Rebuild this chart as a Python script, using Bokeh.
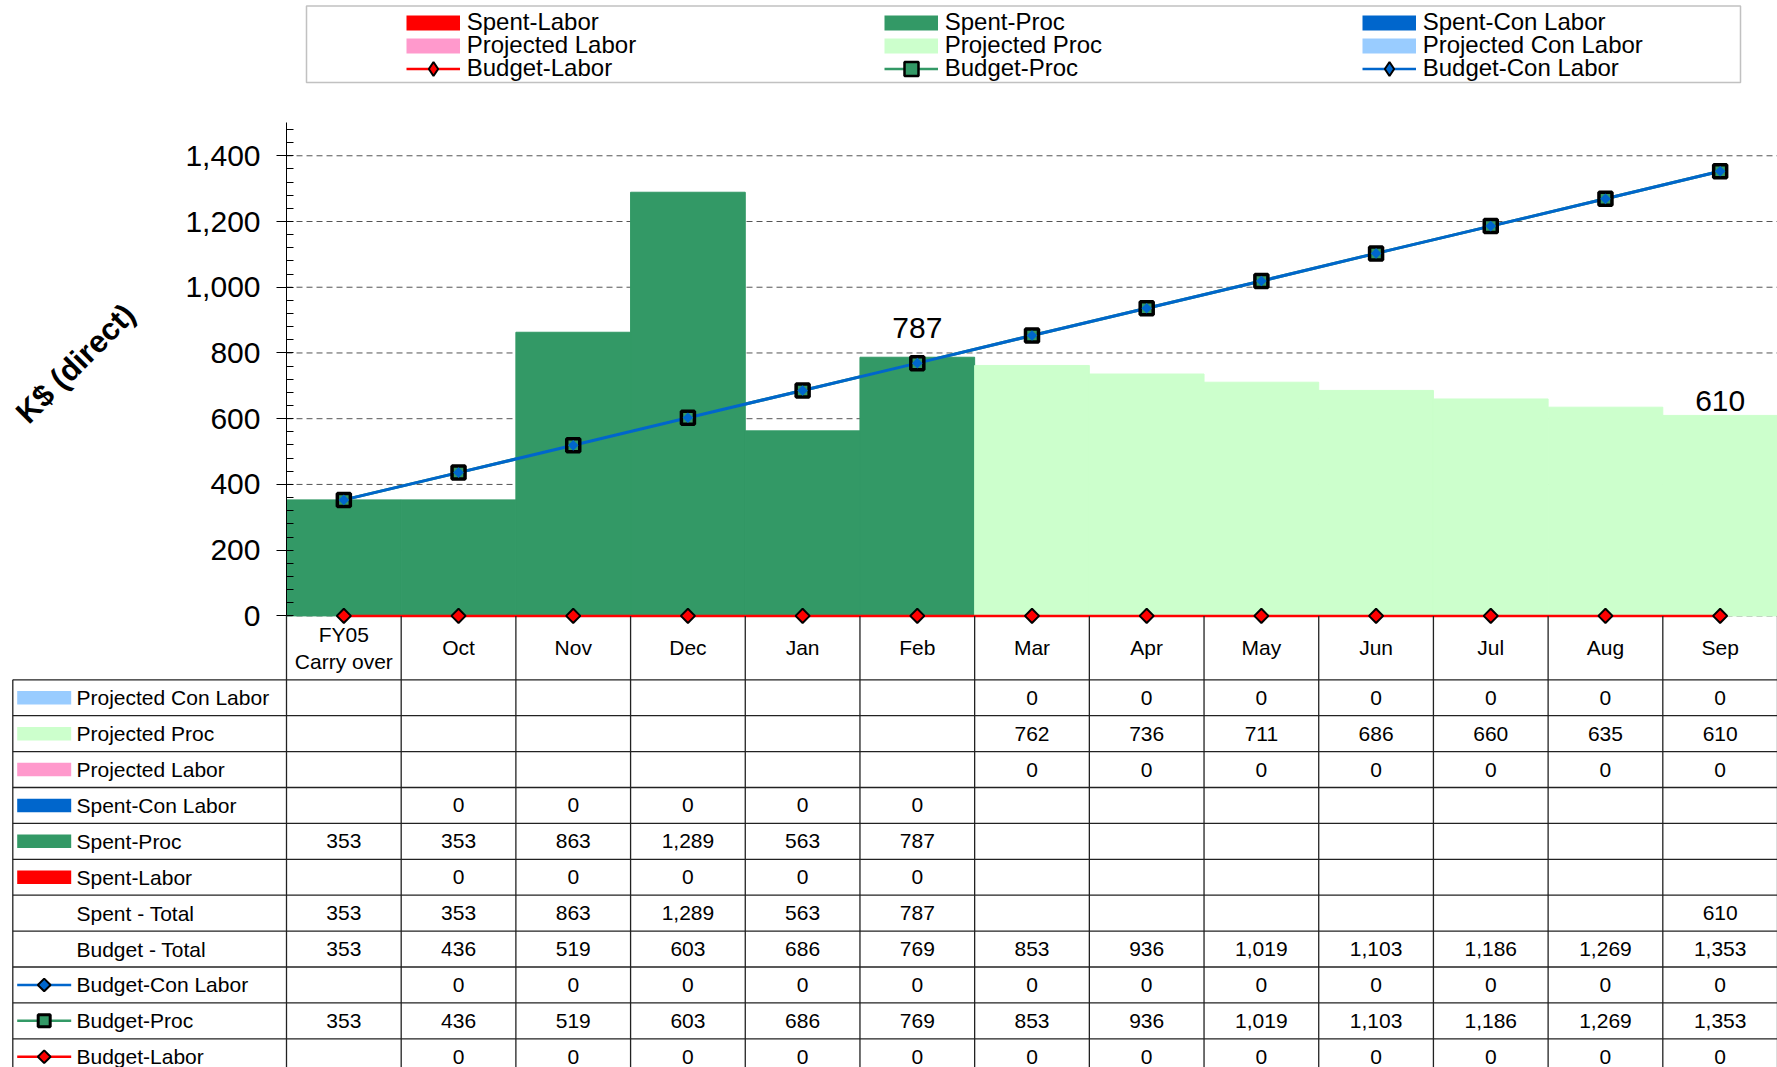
from bokeh.plotting import figure
from bokeh.models import (Range1d, SingleIntervalTicker, NumeralTickFormatter, Legend, LegendItem,
                          Label, BoxAnnotation, LinearAxis)
from bokeh.embed import file_html
from bokeh.resources import INLINE
from bokeh.core.properties import value

FONT = "Liberation Sans"
N = None
NAN = float("nan")

# ---------------- data ----------------
categories = ["FY05\nCarry over", "Oct", "Nov", "Dec", "Jan", "Feb", "Mar", "Apr", "May",
              "Jun", "Jul", "Aug", "Sep"]
spent_labor = [N, 0, 0, 0, 0, 0, N, N, N, N, N, N, N]
spent_proc = [353, 353, 863, 1289, 563, 787, N, N, N, N, N, N, N]
spent_con_labor = [N, 0, 0, 0, 0, 0, N, N, N, N, N, N, N]
projected_labor = [N, N, N, N, N, N, 0, 0, 0, 0, 0, 0, 0]
projected_proc = [N, N, N, N, N, N, 762, 736, 711, 686, 660, 635, 610]
projected_con_labor = [N, N, N, N, N, N, 0, 0, 0, 0, 0, 0, 0]
spent_total = [353, 353, 863, 1289, 563, 787, N, N, N, N, N, N, 610]
budget_total = [353, 436, 519, 603, 686, 769, 853, 936, 1019, 1103, 1186, 1269, 1353]
budget_con_labor = [N, 0, 0, 0, 0, 0, 0, 0, 0, 0, 0, 0, 0]
budget_proc = [353, 436, 519, 603, 686, 769, 853, 936, 1019, 1103, 1186, 1269, 1353]
budget_labor = [N, 0, 0, 0, 0, 0, 0, 0, 0, 0, 0, 0, 0]
y_tick_interval = 200
y_max = 1500

# ---------------- styles / layout constants (pixels) ----------------
C_SL, C_SP, C_SC = "#FF0000", "#339966", "#0066CC"
C_PL, C_PP, C_PC = "#FF99CC", "#CCFFCC", "#99CCFF"
W, H = 1777, 1067
AXIS_X = 286.0      # canvas x of the value axis
TOP_Y = 122.4       # canvas y of y_max
ZERO_Y = 615.4      # canvas y of 0
ROW0_Y = 679.3      # canvas y of first table row
RH = 35.9           # table row height


def nz(a):
    return [0 if v is None else v for v in a]


def stack_top(base, vals):
    return [b + v if v is not None else NAN for b, v in zip(base, vals)]


def add(a, b):
    return [x + y for x, y in zip(a, b)]


ncat = len(categories)
xs = [i + 0.5 for i in range(ncat)]
col_px = (W - AXIS_X) / ncat
ppu = (ZERO_Y - TOP_Y) / y_max


def tx(px):
    return (px - AXIS_X) / col_px


def ty(px):
    return (px - ROW0_Y) / RH


p = figure(width=W, height=H, x_range=Range1d(-AXIS_X / col_px, ncat),
           y_range=Range1d(-(H - ZERO_Y) / ppu, ZERO_Y / ppu),
           output_backend="svg", toolbar_location=None, min_border=0,
           x_axis_location=None, y_axis_location=None)
p.extra_y_ranges = {"table": Range1d(start=(H - ROW0_Y) / RH, end=-ROW0_Y / RH)}
p.outline_line_color = None
p.xgrid.visible = False
p.ygrid.visible = False

ticker = SingleIntervalTicker(interval=y_tick_interval, num_minor_ticks=5)
grid_vals = list(range(0, y_max, y_tick_interval))
p.segment(x0=[0] * len(grid_vals), y0=grid_vals, x1=[ncat] * len(grid_vals), y1=grid_vals,
          line_color="#555555", line_dash="6 4", line_width=1)

ax = LinearAxis(fixed_location=0, bounds=(0, y_max), ticker=ticker,
                formatter=NumeralTickFormatter(format="0,0"))
ax.major_label_text_font = FONT
ax.major_label_text_font_size = "30px"
ax.major_label_text_color = "black"
ax.major_tick_out = 10
ax.major_tick_in = 0
ax.minor_tick_in = 7
ax.minor_tick_out = 0
ax.major_label_standoff = 16
ax.axis_line_color = "black"
ax.major_tick_line_color = "black"
ax.minor_tick_line_color = "black"
p.add_layout(ax, "left")

# bars (stacked)
zeros = [0] * ncat
sb0 = nz(spent_labor)
sb1 = add(sb0, nz(spent_proc))
p.vbar(x=xs, bottom=zeros, top=stack_top(zeros, spent_labor), width=1.0, fill_color=C_SL, line_color=None)
p.vbar(x=xs, bottom=sb0, top=stack_top(sb0, spent_proc), width=1.0, fill_color=C_SP,
       line_color=C_SP, line_width=1)
p.vbar(x=xs, bottom=sb1, top=stack_top(sb1, spent_con_labor), width=1.0, fill_color=C_SC, line_color=None)
pb0 = nz(projected_labor)
pb1 = add(pb0, nz(projected_proc))
p.vbar(x=xs, bottom=zeros, top=stack_top(zeros, projected_labor), width=1.0, fill_color=C_PL, line_color=None)
p.vbar(x=xs, bottom=pb0, top=stack_top(pb0, projected_proc), width=1.0, fill_color=C_PP,
       line_color=C_PP, line_width=1)
p.vbar(x=xs, bottom=pb1, top=stack_top(pb1, projected_con_labor), width=1.0, fill_color=C_PC, line_color=None)

# budget lines (stacked)
bl = nz(budget_labor)
bp = add(bl, budget_proc)
bc = add(bp, nz(budget_con_labor))
p.line(xs, bl, line_color=C_SL, line_width=2.5)
p.line(xs, bp, line_color=C_SP, line_width=3)
p.line(xs, bc, line_color=C_SC, line_width=3)
p.scatter(xs, bl, marker="square", angle=45, angle_units="deg", size=10, fill_color=C_SL,
          line_color="black", line_width=2)
p.scatter(xs, bp, marker="square", size=13, fill_color=C_SP, line_color="black", line_width=3.5)
p.scatter(xs, bc, marker="square", angle=45, angle_units="deg", size=7.5, fill_color=C_SC,
          line_color=None)

# data labels (last spent / last projected)
last_sp = max(i for i, v in enumerate(spent_proc) if v is not None)
last_pp = max(i for i, v in enumerate(projected_proc) if v is not None)
p.text(x=[xs[last_sp]], y=[spent_proc[last_sp]], text=[f"{spent_proc[last_sp]:,}"],
       text_align="center", text_baseline="alphabetic", y_offset=-29,
       text_font=value(FONT), text_font_size="30px", text_color="black")
p.text(x=[xs[last_pp]], y=[projected_proc[last_pp]], text=[f"{projected_proc[last_pp]:,}"],
       text_align="center", text_baseline="alphabetic", y_offset=-14,
       text_font=value(FONT), text_font_size="30px", text_color="black")

# axis title
p.add_layout(Label(x=75, y=363, x_units="canvas", y_units="canvas", text="K$ (direct)",
                   angle=45, angle_units="deg", text_font=FONT, text_font_style="bold",
                   text_font_size="31px", text_color="black", text_align="center",
                   text_baseline="middle"))

# ---------------- legend (one Legend per row) ----------------
def dline(color, width):
    return p.line(x=[NAN], y=[NAN], line_color=color, line_width=width, line_cap="butt")


def dmark(marker, fill, lw):
    return p.scatter(x=[NAN], y=[NAN], marker=marker, size=10, fill_color=fill, line_color="black",
                     line_width=lw)


legend_rows = [
    [("Spent-Labor", [dline(C_SL, 15)]),
     ("Spent-Proc", [dline(C_SP, 15)]),
     ("Spent-Con Labor", [dline(C_SC, 15)])],
    [("Projected Labor", [dline(C_PL, 15)]),
     ("Projected Proc", [dline(C_PP, 15)]),
     ("Projected Con Labor", [dline(C_PC, 15)])],
    [("Budget-Labor", [dline(C_SL, 2.5), dmark("diamond", C_SL, 2)]),
     ("Budget-Proc", [dline(C_SP, 2.5), dmark("square", C_SP, 2.5)]),
     ("Budget-Con Labor", [dline(C_SC, 2.5), dmark("diamond", C_SC, 2)])],
]
LEG_X = 405.7
LEG_ROW_Y = [22.0, 45.0, 68.2]
GH = 35
for row_y, entries in zip(LEG_ROW_Y, legend_rows):
    lg = Legend(items=[LegendItem(label=lab, renderers=rs) for lab, rs in entries],
                location=(LEG_X, H - (row_y + GH / 2)), orientation="horizontal",
                glyph_width=54, glyph_height=GH, spacing=0, label_standoff=7, label_width=417,
                padding=0, margin=0, border_line_alpha=0, background_fill_alpha=0,
                label_text_font=FONT, label_text_font_size="24px", label_text_color="black")
    p.add_layout(lg)
p.add_layout(BoxAnnotation(left=306, right=1740, top=5.5, bottom=82, left_units="canvas",
                           right_units="canvas", top_units="canvas", bottom_units="canvas",
                           fill_alpha=0, line_color="#333333", line_width=1.5))

# ---------------- category row + table ----------------
rows = [
    ("Projected Con Labor", projected_con_labor, ("bar", C_PC)),
    ("Projected Proc", projected_proc, ("bar", C_PP)),
    ("Projected Labor", projected_labor, ("bar", C_PL)),
    ("Spent-Con Labor", spent_con_labor, ("bar", C_SC)),
    ("Spent-Proc", spent_proc, ("bar", C_SP)),
    ("Spent-Labor", spent_labor, ("bar", C_SL)),
    ("Spent - Total", spent_total, None),
    ("Budget - Total", budget_total, None),
    ("Budget-Con Labor", budget_con_labor, ("line", C_SC, "diamond")),
    ("Budget-Proc", budget_proc, ("line", C_SP, "square")),
    ("Budget-Labor", budget_labor, ("line", C_SL, "diamond")),
]
nrows = len(rows)
TR = "table"
cat_top = ty(ZERO_Y)
x_left = tx(12.3)
bounds = list(range(ncat + 1))

p.text(x=xs, y=[cat_top / 2] * ncat, text=categories, text_align="center", text_baseline="middle",
       text_font=value(FONT), text_font_size="21px", text_color="black", text_line_height=1.16,
       y_range_name=TR)
hy = list(range(nrows + 1))
p.segment(x0=[x_left] * len(hy), y0=hy, x1=[ncat] * len(hy), y1=hy, line_color="#222222",
          line_width=1.3, y_range_name=TR)
p.segment(x0=bounds, y0=[cat_top] * len(bounds), x1=bounds, y1=[nrows] * len(bounds),
          line_color="#222222", line_width=1.3, y_range_name=TR)
p.segment(x0=[x_left], y0=[0], x1=[x_left], y1=[nrows], line_color="#222222", line_width=1.3,
          y_range_name=TR)

vx_, vy_, vt_ = [], [], []
lx, ly, lt = [], [], []
for r, (name, vals, key) in enumerate(rows):
    yc = r + 0.5
    lx.append(tx(76)); ly.append(yc); lt.append(name)
    for i, v in enumerate(vals):
        if v is not None:
            vx_.append(xs[i]); vy_.append(yc); vt_.append(f"{v:,}")
    if key is None:
        continue
    if key[0] == "bar":
        p.rect(x=[tx(43.7)], y=[yc], width=54, height=13.5, width_units="screen",
               height_units="screen", fill_color=key[1], line_color=None, y_range_name=TR)
    else:
        p.segment(x0=[tx(16.7)], y0=[yc], x1=[tx(70.7)], y1=[yc], line_color=key[1],
                  line_width=2.5, y_range_name=TR)
        if key[2] == "square":
            p.scatter(x=[tx(43.7)], y=[yc], marker="square", size=12, fill_color=key[1],
                      line_color="black", line_width=3, y_range_name=TR)
        else:
            p.scatter(x=[tx(43.7)], y=[yc], marker="square", angle=45, angle_units="deg", size=9,
                      fill_color=key[1], line_color="black", line_width=2, y_range_name=TR)

p.text(x=lx, y=ly, text=lt, text_align="left", text_baseline="middle",
       text_font=value(FONT), text_font_size="21px", text_color="black", y_range_name=TR)
p.text(x=vx_, y=vy_, text=vt_, text_align="center", text_baseline="middle",
       text_font=value(FONT), text_font_size="21px", text_color="black", y_range_name=TR)

open("out.html", "w").write(file_html(p, INLINE))
